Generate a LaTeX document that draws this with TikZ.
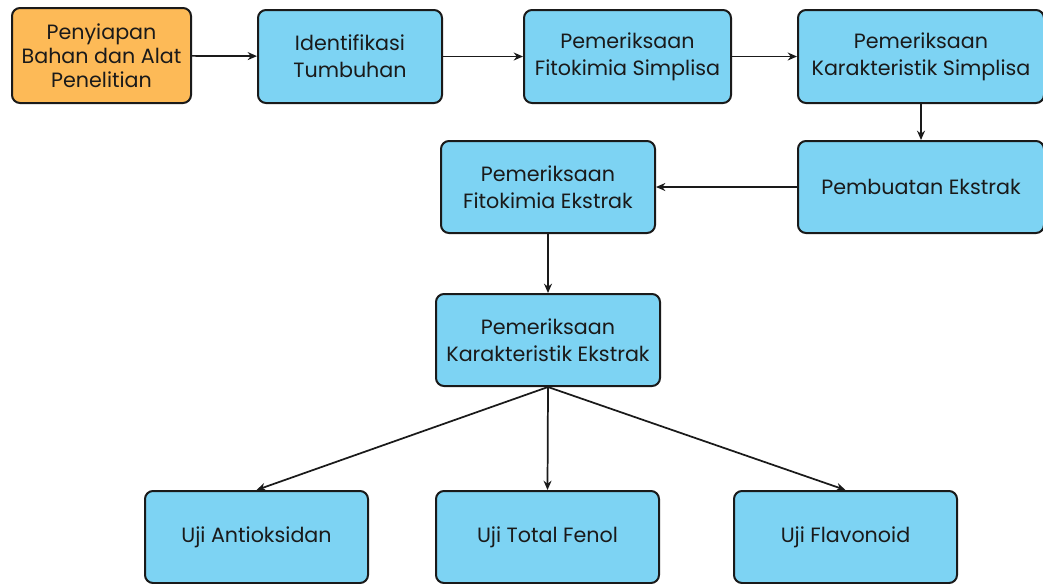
\documentclass[tikz,border=0pt]{standalone}
\usepackage{fontspec}
\setmainfont{Poppins}
\usetikzlibrary{arrows.meta}
\definecolor{boxblue}{HTML}{7DD3F3}
\definecolor{boxorange}{HTML}{FDBA57}
\definecolor{edge}{HTML}{1A1A1A}
\begin{document}
\begin{tikzpicture}[x=0.75pt,y=-0.75pt,
  box/.style={draw=edge,line width=1.5pt,rounded corners=6pt,fill=boxblue,
    align=center,inner sep=0pt,font=\fontsize{15.5}{20}\selectfont,text=edge},
  conn/.style={draw=edge,line width=1.3pt,-{Stealth[length=7pt,width=6pt]}}]
\useasboundingbox (0,0) rectangle (1043,583);
\node[box,fill=boxorange,minimum width=179*0.75pt,minimum height=95*0.75pt,font=\fontsize{15.5}{18}\selectfont] (a) at (101.5,55.5) {Penyiapan\\Bahan dan Alat\\Penelitian};
\node[box,minimum width=184*0.75pt,minimum height=93*0.75pt] (b) at (350,56.5) {Identifikasi\\Tumbuhan};
\node[box,minimum width=207*0.75pt,minimum height=93*0.75pt] (c) at (627.5,56.5) {Pemeriksaan\\Fitokimia Simplisa};
\node[box,minimum width=246*0.75pt,minimum height=93*0.75pt] (d) at (921,56.5) {Pemeriksaan\\Karakteristik Simplisa};
\node[box,minimum width=246*0.75pt,minimum height=92*0.75pt] (e) at (921,187) {Pembuatan Ekstrak};
\node[box,minimum width=214*0.75pt,minimum height=92*0.75pt] (f) at (548,187) {Pemeriksaan\\Fitokimia Ekstrak};
\node[box,minimum width=224*0.75pt,minimum height=92*0.75pt] (g) at (548,340) {Pemeriksaan\\Karakteristik Ekstrak};
\node[box,minimum width=223*0.75pt,minimum height=92*0.75pt] (h) at (256.5,537) {Uji Antioksidan};
\node[box,minimum width=223*0.75pt,minimum height=92*0.75pt] (i) at (547.5,537) {Uji Total Fenol};
\node[box,minimum width=223*0.75pt,minimum height=92*0.75pt] (j) at (845.5,537) {Uji Flavonoid};
\draw[conn] (a) -- (b);
\draw[conn] (b) -- (c);
\draw[conn] (c) -- (d);
\draw[conn] (d) -- (e);
\draw[conn] (e) -- (f);
\draw[conn] (f) -- (g);
\draw[conn] (g.south) -- (h.north);
\draw[conn] (g.south) -- (i.north);
\draw[conn] (g.south) -- (j.north);
\end{tikzpicture}
\end{document}
